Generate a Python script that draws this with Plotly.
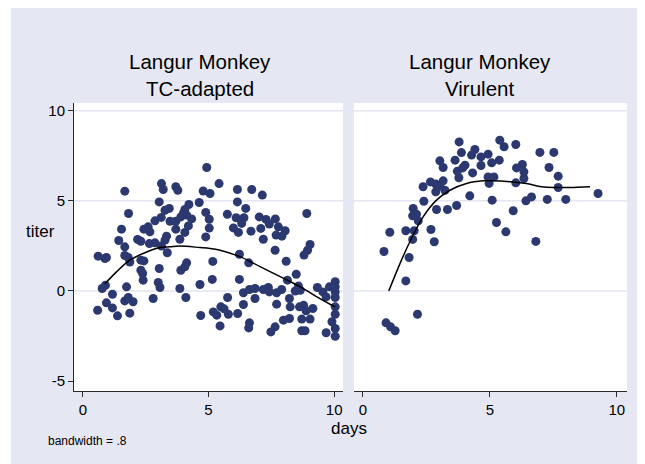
import plotly.graph_objects as go

# ---------------- data ----------------
tc_days = [3.13, 3.20, 3.70, 3.78, 1.67, 4.79, 1.82, 3.04, 4.22, 4.06, 4.00, 4.13, 3.90, 4.33, 4.63, 4.89,
           3.44, 3.27, 3.12, 2.87, 3.47, 3.70, 3.70, 4.06, 4.20, 3.86, 4.89, 1.54, 2.43, 2.60, 2.67, 1.43,
           1.67, 2.18, 2.31, 2.65, 2.87, 3.33, 3.27, 3.13, 3.36, 0.61, 0.88, 0.94, 1.67, 1.81, 1.87, 2.31,
           2.43, 2.31, 2.38, 2.40, 3.04, 4.13, 4.06, 3.90, 0.77, 0.90, 1.18, 1.74, 3.00, 3.07, 3.86, 4.66,
           0.94, 1.18, 0.59, 1.38, 1.67, 1.81, 2.00, 1.87, 2.80, 4.10, 4.69,
           4.93, 5.42, 5.06, 6.15, 6.72, 7.14, 6.15, 6.48, 5.03, 5.03, 5.75, 6.10, 6.41, 6.32, 5.99, 6.19,
           6.69, 7.02, 7.29, 7.42, 7.66, 7.78, 8.05, 7.69, 7.92, 7.08, 7.18, 8.91, 9.04, 8.94, 8.80, 7.65,
           8.09, 8.49, 5.17, 5.15, 6.23, 6.60, 6.23, 8.14, 6.39, 6.63, 6.85, 7.18, 7.38, 7.42, 7.71, 7.91,
           8.58, 8.65, 8.45, 9.33, 9.55, 9.68, 9.81, 10.04, 10.04, 10.04, 10.04, 10.04, 10.04, 9.91, 10.04,
           10.04, 9.68, 6.85, 6.39, 5.76, 8.22, 8.25, 8.62, 8.78, 9.15, 8.88, 8.71, 9.04, 8.71, 8.84, 7.71,
           7.98, 8.22, 7.65, 7.48, 6.63, 6.60, 6.16, 5.46, 5.19, 5.33, 5.49, 5.62, 5.79]
tc_titer = [5.96, 5.63, 5.78, 5.59, 5.54, 5.55, 4.30, 4.94, 4.80, 4.52, 4.30, 4.21, 4.11, 4.00, 4.91, 4.36,
            4.58, 4.48, 4.08, 3.89, 3.87, 3.87, 3.43, 3.25, 3.61, 2.87, 3.00, 3.43, 3.43, 3.56, 3.28, 2.80,
            2.45, 2.86, 2.76, 2.63, 2.67, 3.04, 2.82, 2.49, 2.12, 1.93, 1.80, 1.86, 1.97, 1.86, 1.61, 1.71,
            1.67, 1.15, 0.97, 0.60, 1.25, 1.56, 1.34, 1.15, 0.14, 0.32, -0.18, 0.23, 0.47, 0.19, 0.14, 0.36,
            -0.66, -0.94, -1.07, -1.38, -0.55, -0.36, -0.60, -1.23, -0.42, -0.36, -1.36,
            6.85, 5.96, 5.41, 5.63, 5.63, 5.32, 4.94, 4.58, 3.98, 3.49, 4.26, 4.06, 4.06, 3.75, 3.50, 3.25,
            3.32, 4.11, 3.97, 3.71, 4.00, 3.56, 3.34, 3.10, 3.04, 3.47, 2.87, 4.30, 2.58, 2.26, 1.99, 2.26,
            1.65, 0.93, 1.64, 0.64, 2.04, 1.56, 0.64, 0.60, -0.10, 0.08, 0.14, 0.08, 0.19, -0.05, -0.10, 0.08,
            0.27, 0.04, 0.00, 0.19, -0.05, -0.33, 0.23, 0.51, 0.23, -0.05, -0.36, -0.88, -1.29, -1.71, -2.08,
            -2.51, -2.32, -0.42, -0.75, -0.36, -0.42, -0.88, -0.88, -0.79, -0.97, -1.10, -1.56, -1.56, -2.21, -2.21, -0.73,
            -1.62, -1.53, -1.99, -2.27, -1.77, -2.05, -1.25, -1.94, -1.16, -1.34, -0.88, -0.99, -1.29]

vir_days = [3.79, 3.88, 4.41, 4.28, 4.65, 4.93, 3.03, 3.16, 3.63, 4.02, 3.93, 3.72, 4.32, 3.78, 4.65, 4.93,
            4.97, 2.66, 2.87, 3.03, 3.16, 2.87, 3.23, 2.37, 4.21, 2.40, 1.98, 2.11, 1.96, 2.18, 2.90, 3.33,
            3.69, 1.06, 1.69, 2.02, 1.96, 2.68, 2.81, 0.83, 1.82, 1.69, 2.15, 0.91, 1.09, 1.27,
            5.39, 5.56, 6.02, 5.07, 5.37, 5.16, 6.05, 6.28, 6.34, 6.34, 6.02, 6.97, 7.52, 7.33, 7.69, 7.69,
            9.26, 5.09, 6.42, 6.64, 7.26, 7.99, 5.92, 5.26, 5.63, 6.81]
vir_titer = [8.27, 7.68, 7.85, 7.54, 7.44, 7.59, 7.22, 6.85, 7.26, 6.98, 6.83, 6.65, 6.55, 6.28, 6.96, 6.33,
             5.97, 6.05, 5.93, 5.82, 6.11, 5.50, 5.59, 5.78, 5.28, 4.98, 4.58, 4.26, 4.17, 3.89, 4.52, 4.52,
             4.74, 3.26, 3.34, 3.34, 2.86, 3.41, 2.73, 2.19, 1.86, 0.56, -1.29, -1.77, -1.99, -2.21,
             8.37, 8.00, 8.13, 7.11, 7.26, 6.33, 6.83, 7.02, 6.61, 6.24, 6.00, 7.69, 7.69, 6.85, 6.37, 5.74,
             5.41, 5.04, 5.00, 5.22, 5.08, 5.08, 4.45, 3.80, 3.28, 2.75]

# lowess curves
tc_fit_days = [0.88, 1.34, 1.87, 2.40, 3.07, 3.47, 3.86, 4.66, 5.06, 5.46, 6.27, 7.07, 7.87, 8.65, 9.31, 9.91, 10.04]
tc_fit_titer = [0.40, 1.06, 1.71, 2.08, 2.41, 2.45, 2.49, 2.41, 2.36, 2.26, 1.89, 1.34, 0.78, 0.23, -0.33, -0.79, -0.88]
vir_fit_days = [1.02, 1.46, 1.85, 2.37, 2.90, 3.43, 4.08, 4.74, 5.00, 5.92, 6.44, 7.04, 7.63, 8.15, 8.94]
vir_fit_titer = [0.00, 1.52, 2.73, 4.11, 5.04, 5.59, 5.96, 6.11, 6.11, 6.05, 5.96, 5.78, 5.74, 5.74, 5.78]

x_ticks = [0, 5, 10]
y_ticks = [-5, 0, 5, 10]
y_tick_text = ["-5", "0", "5", "10"]
grid_vals = [0, 5, 10]
panel_titles = [["Langur Monkey", "TC-adapted"], ["Langur Monkey", "Virulent"]]

# ---------------- layout helpers ----------------
# reference positions are given in screenshot pixels; the page adds an 8px body margin
OFF = 8
W, H = 645, 464
L_PX, R_PX, T_PX, B_PX = 74, 627, 103, 391          # plot region in screenshot pixels
ML, MR, MT, MB = L_PX - OFF, W - (R_PX - OFF), T_PX - OFF, H - (B_PX - OFF)
PW, PH = W - ML - MR, H - MT - MB


def px(x):
    return (x - OFF - ML) / PW


def py(y):
    return (H - MB - (y - OFF)) / PH


FONT = "Liberation Sans, Arial, Helvetica, sans-serif"
MARK = "#2b3970"
BG = "#e5e7f2"
GRID = "#e3e6f0"
AX = "#2a2a2a"

fig = go.Figure()
fig.add_trace(go.Scatter(x=tc_days, y=tc_titer, mode="markers", xaxis="x", yaxis="y",
                         marker=dict(size=9, color=MARK), showlegend=False))
fig.add_trace(go.Scatter(x=tc_fit_days, y=tc_fit_titer, mode="lines", xaxis="x", yaxis="y",
                         line=dict(color="black", width=1.5, shape="spline"), showlegend=False))
fig.add_trace(go.Scatter(x=vir_days, y=vir_titer, mode="markers", xaxis="x2", yaxis="y2",
                         marker=dict(size=9, color=MARK), showlegend=False))
fig.add_trace(go.Scatter(x=vir_fit_days, y=vir_fit_titer, mode="lines", xaxis="x2", yaxis="y2",
                         line=dict(color="black", width=1.5, shape="spline"), showlegend=False))

xcommon = dict(tickvals=x_ticks, ticks="outside", ticklen=5, tickcolor=AX, tickwidth=1,
               showline=True, linecolor=AX, linewidth=1, showgrid=False, zeroline=False,
               tickfont=dict(family=FONT, size=15, color="black"), fixedrange=True)

shapes = []
for yr, xr in (("y", "x domain"), ("y2", "x2 domain")):
    for g in grid_vals:
        shapes.append(dict(type="line", xref=xr, yref=yr, x0=0, x1=1, y0=g, y1=g,
                           line=dict(color=GRID, width=1.5), layer="below"))
# thin white strip at the very left of the graph region
shapes.append(dict(type="rect", xref="paper", yref="paper", x0=px(OFF), x1=px(11), y0=py(H + OFF),
                   y1=py(OFF), fillcolor="white", line=dict(width=0), layer="below"))

annotations = []
for (cx, lines) in ((200, panel_titles[0]), (479.5, panel_titles[1])):
    for i, t in enumerate(lines):
        annotations.append(dict(text=t, x=px(cx), y=py(62 + 26 * i), xref="paper", yref="paper",
                                xanchor="center", yanchor="middle", showarrow=False,
                                font=dict(family=FONT, size=20.5, color="black")))
annotations.append(dict(text="titer", x=px(40), y=py(231), xref="paper", yref="paper",
                        xanchor="center", yanchor="middle", showarrow=False,
                        font=dict(family=FONT, size=17, color="black")))
annotations.append(dict(text="days", x=px(349), y=py(428), xref="paper", yref="paper",
                        xanchor="center", yanchor="middle", showarrow=False,
                        font=dict(family=FONT, size=17, color="black")))
annotations.append(dict(text="bandwidth = .8", x=px(46), y=py(441), xref="paper", yref="paper",
                        xanchor="left", yanchor="middle", showarrow=False,
                        font=dict(family=FONT, size=12, color="black")))

fig.update_layout(
    width=W, height=H,
    margin=dict(l=ML, r=MR, t=MT, b=MB, pad=0),
    paper_bgcolor=BG, plot_bgcolor="white",
    xaxis=dict(domain=[0, px(343)], range=[-0.35, 10.35], anchor="y", **xcommon),
    xaxis2=dict(domain=[px(354), 1], range=[-0.35, 10.4], anchor="y2", **xcommon),
    yaxis=dict(domain=[0, 1], range=[-5.55, 10.43], tickvals=y_ticks, ticktext=y_tick_text,
               ticks="outside", ticklen=5, tickcolor=AX, showline=True, linecolor=AX, linewidth=1,
               showgrid=False, zeroline=False, tickfont=dict(family=FONT, size=15, color="black"),
               anchor="x", fixedrange=True),
    yaxis2=dict(domain=[0, 1], range=[-5.55, 10.43], showticklabels=False, ticks="", showline=False,
                showgrid=False, zeroline=False, anchor="x2", fixedrange=True),
    shapes=shapes, annotations=annotations,
)

fig.write_html("out.html")
